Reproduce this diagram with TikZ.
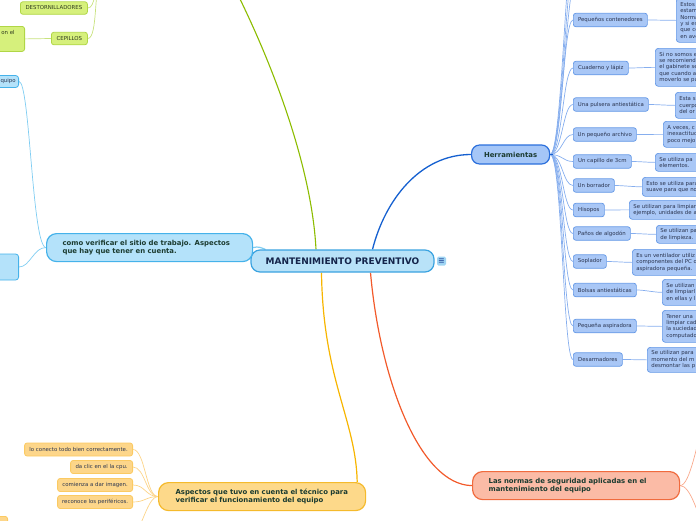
\documentclass[tikz,border=0pt]{standalone}
\usepackage{fontspec}
\setmainfont{DejaVu Sans}
\pgfdeclarelayer{bg}
\pgfsetlayers{bg,main}
\definecolor{cfill}{HTML}{B8E2F8}
\definecolor{cdraw}{HTML}{3BA3E0}
\definecolor{cnavy}{HTML}{14244A}
\definecolor{brtext}{HTML}{1B3B30}
\definecolor{ctext}{HTML}{2B3550}
\definecolor{vfill}{HTML}{B4E2FA}
\definecolor{vdraw}{HTML}{45B2EA}
\definecolor{vline}{HTML}{7FCDF2}
\definecolor{hbfill}{HTML}{A5C6F7}
\definecolor{hbdraw}{HTML}{2B6FDC}
\definecolor{hbline}{HTML}{1560D0}
\definecolor{hfill}{HTML}{A9C7F6}
\definecolor{hdraw}{HTML}{6498E6}
\definecolor{hthin}{HTML}{86AEEE}
\definecolor{gline}{HTML}{8CBC00}
\definecolor{gfill}{HTML}{D6F07C}
\definecolor{gdraw}{HTML}{B0D646}
\definecolor{gthin}{HTML}{C8E27E}
\definecolor{gtext}{HTML}{2E3A1E}
\definecolor{yline}{HTML}{F7B500}
\definecolor{yfill}{HTML}{FDD98A}
\definecolor{ydraw}{HTML}{F5BA2C}
\definecolor{ycfill}{HTML}{FDD68A}
\definecolor{ycdraw}{HTML}{FBCA62}
\definecolor{ythin}{HTML}{FCD488}
\definecolor{rline}{HTML}{F25A2B}
\definecolor{rfill}{HTML}{FBBBA6}
\definecolor{rdraw}{HTML}{F06B3E}
\definecolor{rthin}{HTML}{F9A98C}
\definecolor{icon}{HTML}{3A5FA8}
\begin{document}
\begin{tikzpicture}[x=1pt,y=-1pt,
  small/.style={font=\fontsize{5.4}{6.4}\selectfont},
  brfont/.style={font=\fontsize{6.9}{8.2}\selectfont\bfseries, text=brtext},
  central/.style={draw=cdraw, fill=cfill, line width=1.2pt, rounded corners=9pt,
    inner sep=0pt, font=\fontsize{9}{10}\selectfont\bfseries, text=cnavy},
  vbr/.style={draw=vdraw, fill=vfill, line width=1.2pt, rounded corners=10pt,
    inner ysep=0pt, align=left, brfont},
  vbox/.style={draw=vdraw, fill=vfill, line width=0.8pt, rounded corners=3pt,
    inner sep=0pt, small, text=ctext},
  hbr/.style={draw=hbdraw, fill=hbfill, line width=1.2pt, rounded corners=8pt,
    inner sep=0pt, brfont},
  hlab/.style={draw=hdraw, fill=hfill, line width=0.7pt, rounded corners=2.5pt,
    inner sep=0pt, anchor=west, minimum height=13.5pt, small, text=ctext},
  hdet/.style={draw=hdraw, fill=hfill, line width=0.7pt, rounded corners=3pt,
    anchor=north west, minimum width=90pt, text width=82pt, inner xsep=4pt,
    inner ysep=0pt, align=left, small, text=ctext},
  gbox/.style={draw=gdraw, fill=gfill, line width=0.8pt, rounded corners=2.5pt,
    inner sep=0pt, minimum height=12.5pt, small, text=gtext},
  ybr/.style={draw=ydraw, fill=yfill, line width=1.2pt, rounded corners=10pt,
    inner ysep=0pt, align=left, brfont},
  ybox/.style={draw=ycdraw, fill=ycfill, line width=0.8pt, rounded corners=2.5pt,
    inner sep=0pt, anchor=east, minimum height=13pt, small, text=ctext},
  rbr/.style={draw=rdraw, fill=rfill, line width=1.2pt, rounded corners=10pt,
    inner ysep=0pt, align=left, brfont},
  thick line/.style={line width=1.3pt},
  thin line/.style={line width=0.7pt}
]
\useasboundingbox (0,0) rectangle (696,520);
\clip (0,0) rectangle (696,520);

% ---------- nodes ----------
\node[central, minimum width=183pt, minimum height=22pt] (c) at (342.5,261) {MANTENIMIENTO PREVENTIVO};
\node[fill=cfill!80!cdraw, rounded corners=1.5pt, inner sep=0pt,
  minimum width=9pt, minimum height=9pt, font=\fontsize{8}{8}\selectfont\bfseries, text=icon] (menu) at (441.5,261) {≡};

% left light blue branch
\node[vbr, anchor=north west, minimum width=206pt, minimum height=28pt,
  text width=174pt, inner xsep=16pt] (cv) at (46,233)
  {\mbox{como verificar el sitio de trabajo. Aspectos}\\\mbox{que hay que tener en cuenta.}};
\node[vbox, anchor=east, minimum width=60pt, minimum height=12pt, align=right,
  text width=54pt, inner xsep=3pt] (eq) at (19,81.5) {equipo};
\node[vbox, anchor=east, minimum width=60pt, minimum height=26pt] (lb) at (19,267) {};

% green branch
\node[gbox, anchor=west, minimum width=67pt] (ds) at (20,8) {DESTORNILLADORES};
\node[gbox, anchor=west, minimum width=36pt] (cp) at (51,38.5) {CEPILLOS};
\node[gbox, anchor=north east, minimum width=80pt, minimum height=25pt,
  align=right, text width=70pt, inner xsep=10pt, inner ysep=0pt] (ce) at (25,26) {on el\\~\\~};
\coordinate (gpar) at (100,-15);
\coordinate (gend) at (238,-5);

% Herramientas
\node[hbr, anchor=west, minimum width=78pt, minimum height=19pt] (h) at (471,154.5) {Herramientas};

\node[hlab, minimum width=74pt] (hc1) at (573,20) {Pequeños contenedores};
\node[hlab, minimum width=55pt] (hc2) at (573,68) {Cuaderno y lápiz};
\node[hlab, minimum width=75pt] (hc3) at (573,104.5) {Una pulsera antiestática};
\node[hlab, minimum width=63pt] (hc4) at (573,134.5) {Un pequeño archivo};
\node[hlab, minimum width=58pt] (hc5) at (573,161.5) {Un capillo de 3cm};
\node[hlab, minimum width=41pt] (hc6) at (573,185.5) {Un borrador};
\node[hlab, minimum width=31pt] (hc7) at (573,210) {Hisopos};
\node[hlab, minimum width=57pt] (hc8) at (573,233.5) {Paños de algodón};
\node[hlab, minimum width=33pt] (hc9) at (573,261.5) {Soplador};
\node[hlab, minimum width=63pt] (hc10) at (573,290) {Bolsas antiestáticas};
\node[hlab, minimum width=63pt] (hc11) at (573,326) {Pequeña aspiradora};
\node[hlab, minimum width=49pt] (hc12) at (573,359.5) {Desarmadores};

\node[hdet, minimum height=44pt] (hd1) at (676,-2) {Estos s\\estamo\\Normal\\y si es\\que co\\en ave};
\node[hdet, minimum height=38pt] (hd2) at (655,48) {Si no somos e\\se recomiend\\el gabinete se\\que cuando a\\moverlo se pu};
\node[hdet, minimum height=26pt] (hd3) at (675,92) {Esta s\\cuerpo\\del or};
\node[hdet, minimum height=26pt] (hd4) at (663,121) {A veces, c\\inexactitud\\poco mejo};
\node[hdet, minimum height=18pt] (hd5) at (655,153) {Se utiliza pa\\elementos.};
\node[hdet, minimum height=19pt] (hd6) at (642,177) {Esto se utiliza para\\suave para que no};
\node[hdet, minimum height=19pt] (hd7) at (629,200) {Se utilizan para limpiar\\ejemplo, unidades de a};
\node[hdet, minimum height=18pt] (hd8) at (656,225) {Se utilizan pa\\de limpieza.};
\node[hdet, minimum height=26pt] (hd9) at (632,249) {Es un ventilador utiliz\\componentes del PC o\\aspiradora pequeña.};
\node[hdet, minimum height=26pt] (hd10) at (662,279) {Se utilizan\\de limpiarl\\en ellas y l};
\node[hdet, minimum height=32pt] (hd11) at (662,310) {Tener una\\limpiar cad\\la suciedad\\computador};
\node[hdet, minimum height=25pt] (hd12) at (647,347) {Se utilizan para\\momento del m\\desmontar las p};

\coordinate (hup1) at (576,-20);
\coordinate (hup2) at (576,-45);
\coordinate (hup3) at (576,-75);

% yellow branch
\node[ybr, anchor=north west, minimum width=207pt, minimum height=28pt,
  text width=173pt, inner xsep=17pt] (as) at (158,482)
  {\mbox{Aspectos que tuvo en cuenta el técnico para}\\\mbox{verificar el funcionamiento del equipo}};
\node[ybox, minimum width=108pt] (y1) at (133,449.5) {lo conecto todo bien correctamente.};
\node[ybox, minimum width=62pt] (y2) at (133,467) {da clic en el la cpu.};
\node[ybox, minimum width=75pt] (y3) at (133,485) {comienza a dar imagen.};
\node[ybox, minimum width=75pt] (y4) at (133,502) {reconoce los periféricos.};
\node[ybox, anchor=north east, minimum width=40pt, minimum height=14pt] (y5) at (8,516) {};
\coordinate (ydown) at (128,540);

% red branch
\node[rbr, anchor=north west, minimum width=207pt, minimum height=28pt,
  text width=175pt, inner xsep=16pt] (ln) at (472,471)
  {\mbox{Las normas de seguridad aplicadas en el}\\\mbox{mantenimiento del equipo}};
\coordinate (rup) at (702,428);
\coordinate (rdown) at (702,524);

% ---------- connectors (behind the boxes) ----------
\begin{pgfonlayer}{bg}
\clip (0,0) rectangle (696,520);
\draw[gline, line width=1.1pt] ([xshift=-26.5pt]c.north) .. controls (312,170) and (275,70) .. (gend);
\draw[hbline, thick line] ([xshift=30pt]c.north) .. controls (385,200) and (420,154.5) .. (h.west);
\draw[rline, line width=1.2pt] ([xshift=28pt]c.south) .. controls (380,380) and (420,485) .. (ln.west);
\draw[yline, line width=1.2pt] ([xshift=-21pt]c.south) .. controls (323,380) and (356,420) .. ([xshift=-9pt]as.north east);
\draw[vline, line width=1.2pt] (cv.east) .. controls (258,246) and (262,248) .. ([xshift=-77pt]c.north);

\draw[vline, thin line] (cv.west) .. controls (32,247) and (30,81.5) .. (eq.east);
\draw[vline, thin line] (cv.west) .. controls (34,247) and (30,267) .. (lb.east);

\draw[gthin, thin line] (gpar) .. controls +(-6,0) and +(8,0) .. (ds.east);
\draw[gthin, thin line] (gpar) .. controls +(-6,0) and +(10,0) .. (cp.east);
\draw[gthin, thin line] (ce.east) -- (cp.west);

\foreach \i in {1,...,12}{
  \draw[hthin, thin line] (h.east) .. controls +(12,0) and +(-10,0) .. (hc\i.west);
  \draw[hthin, thin line] (hc\i.east) .. controls +(8,0) and +(-8,0) .. (hd\i.west);
}
\foreach \p in {hup1,hup2,hup3}{
  \draw[hthin, thin line] (h.east) .. controls +(12,0) and +(-10,0) .. (\p);
}
\draw[hbline, line width=1.3pt] (h.east) -- +(3,0);

\foreach \i in {y1,y2,y3,y4}{
  \draw[ythin, thin line] (as.west) .. controls +(-12,0) and +(12,0) .. (\i.east);
}
\draw[ythin, thin line] (as.west) .. controls +(-12,0) and +(12,0) .. (ydown);

\draw[rthin, thin line] (ln.east) .. controls +(10,0) and +(-4,10) .. (rup);
\draw[rthin, thin line] (ln.east) .. controls +(10,0) and +(-4,-10) .. (rdown);
\end{pgfonlayer}
\end{tikzpicture}
\end{document}
